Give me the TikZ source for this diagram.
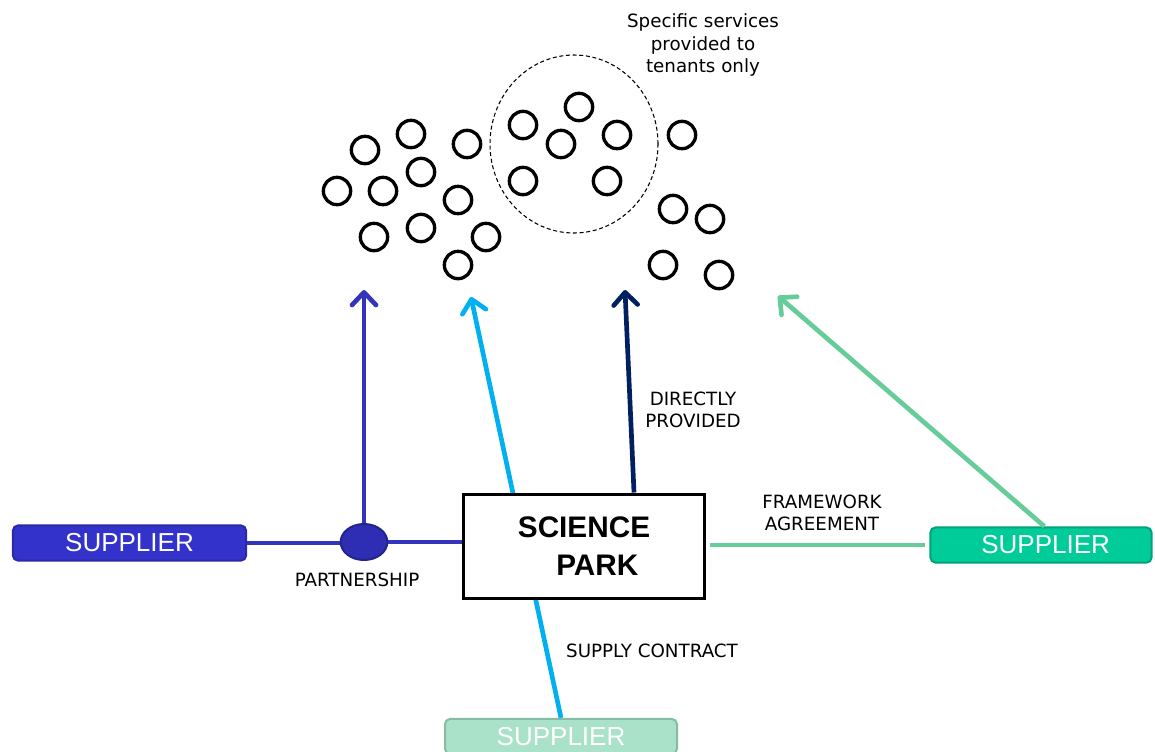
\documentclass[tikz,border=0pt]{standalone}
\usepackage{fontspec}
\setmainfont{DejaVu Sans}
\newfontfamily\arialfont{Liberation Sans}
\usetikzlibrary{arrows.meta,shapes.geometric}
\definecolor{supblue}{HTML}{3333CC}
\definecolor{supblueline}{HTML}{2A2AA6}
\definecolor{linkblue}{HTML}{3333BB}
\definecolor{partfill}{HTML}{2E2EB5}
\definecolor{partline}{HTML}{23238C}
\definecolor{skyblue}{HTML}{00B0F0}
\definecolor{navyblue}{HTML}{002060}
\definecolor{mint}{HTML}{66CC99}
\definecolor{supgreen}{HTML}{00CC99}
\definecolor{supgreenline}{HTML}{00A37A}
\definecolor{palegreen}{HTML}{A9E2C9}
\definecolor{palegreenline}{HTML}{86BBA4}
\begin{document}
\begin{tikzpicture}[x=0.75pt,y=-0.75pt,
  tenant/.style={circle, draw=black, line width=2.5pt, minimum size=20.5pt, inner sep=0pt},
  supplier/.style={rounded corners=4pt, line width=1.5pt, minimum height=26.5pt, inner sep=0pt,
    font=\arialfont\fontsize{19.5}{22}\selectfont, text=white},
  label/.style={align=center, font=\fontsize{13.7}{16.8}\selectfont, text=black},
  link/.style={line width=3.5pt},
  arr/.style={link, -{Straight Barb[round, length=9.5pt, width=18pt]}}]
\useasboundingbox (0,0) rectangle (1155,751);
\clip (0,0) rectangle (1155,751);

% tenants
\foreach \i/\x/\y in {1/365/150, 2/411/134, 3/467/144, 4/337/191, 5/383/191, 6/421/172,
  7/458/200, 8/374/237, 9/421/228, 10/486/237, 11/458/265, 12/523/125, 13/579/107,
  14/561/144, 15/617/135, 16/523/181, 17/607/181, 18/682/135, 19/673/209, 20/710/219,
  21/663/265, 22/719/275}
  \node[tenant] (t\i) at (\x,\y) {};

% dashed group
\node[ellipse, draw=black, line width=0.8pt, dash pattern=on 3pt off 2pt,
  minimum width=126pt, minimum height=133.5pt, inner sep=0pt] (group) at (574,144) {};
\node[label] (grouptext) at (703,45) {Specific services\\provided to\\tenants only};

% suppliers
\node[supplier, fill=supblue, draw=supblueline, minimum width=175pt] (sL) at (129.5,543) {SUPPLIER};
\node[supplier, fill=supgreen, draw=supgreenline, minimum width=166pt] (sR) at (1041,545) {\hspace*{7pt}SUPPLIER};
\node[supplier, fill=palegreen, draw=palegreenline, minimum width=174pt] (sB) at (561,736.5) {SUPPLIER};

% supply contract line behind science park
\coordinate (tipB) at (471,297);
\draw[arr, skyblue] (sB.north) -- (tipB);

% science park
\node[draw=black, fill=white, line width=2.25pt, minimum width=181pt, minimum height=78pt,
  align=center, font=\arialfont\bfseries\fontsize{22.3}{28}\selectfont] (park) at (584,546)
  {SCIENCE\\\hspace*{20pt}PARK};

% partnership
\node[ellipse, fill=partfill, draw=partline, line width=1.5pt, minimum width=35pt,
  minimum height=27pt, inner sep=0pt] (part) at (364,542) {};
\coordinate (tipA) at (364,290);
\draw[link, linkblue] (sL.east) -- (sL.east -| part.west);
\draw[link, linkblue] (part.east) -- (part.east -| park.west);
\draw[arr, linkblue] (part.north) -- (tipA);
\node[label] (partlabel) at (357,580) {PARTNERSHIP};

% directly provided
\coordinate (tipC) at (625,290);
\draw[arr, navyblue] ([xshift=37.5pt]park.north) -- (tipC);
\node[label] (directlabel) at (693,410) {DIRECTLY\\PROVIDED};

% framework agreement
\coordinate (tipD) at (778,296);
\draw[arr, mint] ([xshift=2.5pt]sR.north) -- (tipD);
\draw[link, mint] ([xshift=3pt]sR.west -| park.east) -- ([xshift=-3pt]sR.west);
\node[label] (frameworklabel) at (822,513) {FRAMEWORK\\AGREEMENT};

% supply contract label
\node[label] (supplylabel) at (652,651) {SUPPLY CONTRACT};
\end{tikzpicture}
\end{document}
